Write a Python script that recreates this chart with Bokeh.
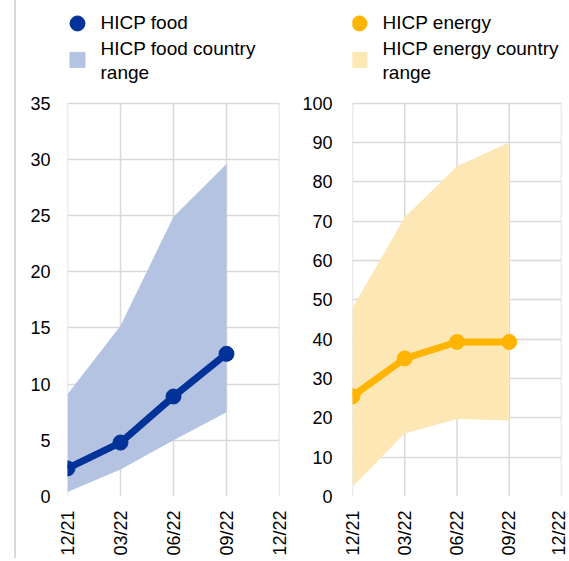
from bokeh.plotting import figure
from bokeh.layouts import row
from bokeh.models import Range1d, FixedTicker, Div
from bokeh.core.properties import value
from bokeh.embed import file_html
from bokeh.resources import INLINE

quarters = ["12/21", "03/22", "06/22", "09/22", "12/22"]
x_obs = [0, 1, 2, 3]

food = [2.5, 4.8, 8.9, 12.7]
food_low = [0.4, 2.4, 5.0, 7.5]
food_high = [9.1, 15.2, 24.9, 29.6]

energy = [25.5, 35.1, 39.3, 39.3]
energy_low = [2.5, 16.0, 19.7, 19.3]
energy_high = [48.0, 71.0, 84.0, 90.0]

food_labels = ["HICP food", "HICP food country\nrange"]
energy_labels = ["HICP energy", "HICP energy country\nrange"]

FONT = "Liberation Sans"
FS = "18px"
LFS = "19px"
GRID = "#d9d9d9"
TOTAL_H = 558
TOP = 5            # frame top (legend lives inside the upper part of the frame)
FRAME_H = 492      # full frame height in px
PLOT_H = 394       # height of the data area (0 .. ymax)
BOTTOM = TOTAL_H - TOP - FRAME_H


def make_chart(width, mb_left, mb_right, ymax, ystep, line_vals, low, high,
               line_color, band_color, standoff, labels, gx, tx):
    frame_w = width - mb_left - mb_right
    y_end = ymax + (FRAME_H - PLOT_H) * ymax / PLOT_H
    p = figure(width=width, height=TOTAL_H, output_backend="svg", toolbar_location=None,
               x_range=Range1d(0, len(quarters) - 1), y_range=Range1d(0, y_end),
               min_border_left=mb_left, min_border_right=mb_right,
               min_border_top=TOP, min_border_bottom=BOTTOM)
    p.background_fill_color = "white"
    p.border_fill_color = "white"
    p.outline_line_color = None

    ticks_x = list(range(len(quarters)))
    ticks_y = list(range(0, ymax + 1, ystep))

    # vertical grid lines only over the data area
    p.segment(x0=ticks_x, y0=[0] * len(ticks_x), x1=ticks_x, y1=[ymax] * len(ticks_x),
              line_color=GRID, line_width=1.5)

    p.varea(x=x_obs, y1=low, y2=high, fill_color=band_color, fill_alpha=1)
    p.line(x=x_obs, y=line_vals, line_color=line_color, line_width=7)
    p.scatter(x=x_obs, y=line_vals, size=15, fill_color=line_color, line_color=line_color)

    p.xaxis.ticker = FixedTicker(ticks=ticks_x)
    p.xaxis.major_label_overrides = {i: q for i, q in enumerate(quarters)}
    p.xaxis.major_label_orientation = 1.5707963
    p.yaxis.ticker = FixedTicker(ticks=ticks_y)
    for ax in (p.xaxis[0], p.yaxis[0]):
        ax.axis_line_color = None
        ax.major_tick_line_color = None
        ax.minor_tick_line_color = None
        ax.major_tick_out = 0
        ax.major_tick_in = 0
        ax.major_label_text_font = FONT
        ax.major_label_text_font_size = FS
        ax.major_label_text_color = "#000000"
    p.xaxis.major_label_standoff = 14
    p.yaxis.major_label_standoff = standoff
    p.xgrid.visible = False
    p.ygrid.ticker = FixedTicker(ticks=ticks_y)
    p.ygrid.grid_line_color = GRID
    p.ygrid.grid_line_width = 1.5

    # legend, positioned in pixel ranges measured from the frame's top-left corner
    p.extra_x_ranges = {"px": Range1d(0, frame_w)}
    p.extra_y_ranges = {"py": Range1d(FRAME_H, 0)}
    p.scatter(x=[gx], y=[18], size=15, marker="circle", fill_color=line_color,
              line_color=line_color, x_range_name="px", y_range_name="py")
    p.scatter(x=[gx], y=[54.5], size=15, marker="square", fill_color=band_color,
              line_color=band_color, x_range_name="px", y_range_name="py")
    p.text(x=[tx, tx], y=[7, 33], text=labels, text_font=value(FONT),
           text_font_size=LFS, text_baseline="top", text_align="left",
           text_line_height=1.12, text_color="#000000",
           x_range_name="px", y_range_name="py")
    return p


p1 = make_chart(275, 51, 12, 35, 5, food, food_low, food_high, "#003299", "#b3c3e1", 17,
                food_labels, 10, 33)
p2 = make_chart(277, 61, 7, 100, 10, energy, energy_low, energy_high, "#ffb400", "#fde7b4", 20,
                energy_labels, 7, 30)

div = Div(width=16, height=TOTAL_H, margin=0, styles={"border-right": "2px solid #d9d9d9"})
layout = row(div, p1, p2)
open("out.html", "w").write(file_html(layout, INLINE))
